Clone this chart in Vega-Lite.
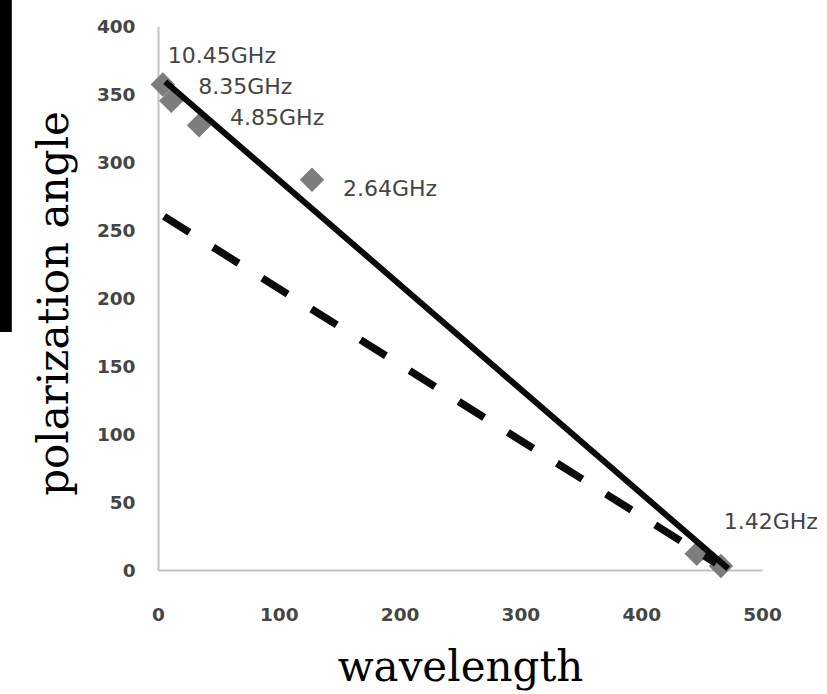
{
  "$schema": "https://vega.github.io/schema/vega-lite/v6.json",
  "width": 604,
  "height": 544,
  "autosize": "none",
  "padding": {"left": 158, "top": 26, "right": 65, "bottom": 124},
  "background": "white",
  "config": {
    "view": {"stroke": null},
    "axis": {
      "grid": false,
      "ticks": false,
      "tickSize": 0,
      "labelFlush": false,
      "labelFont": "DejaVu Sans",
      "labelFontWeight": "bold",
      "labelFontSize": 18.5,
      "labelColor": "#454545",
      "domainColor": "#c4c4c4",
      "domainWidth": 2,
      "titleFont": "DejaVu Serif",
      "titleFontSize": 42,
      "titleFontWeight": "normal",
      "titleColor": "#000000",
      "titleBaseline": "alphabetic"
    }
  },
  "datasets": {
    "points": [
      {"wavelength": 4, "angle": 357, "label": "10.45GHz"},
      {"wavelength": 11, "angle": 345, "label": "8.35GHz"},
      {"wavelength": 34, "angle": 327, "label": "4.85GHz"},
      {"wavelength": 127.5, "angle": 287, "label": "2.64GHz"},
      {"wavelength": 446, "angle": 12, "label": "1.42GHz"},
      {"wavelength": 466, "angle": 3, "label": ""}
    ],
    "fits": [
      {"fit": "solid", "wavelength": 6, "angle": 359},
      {"fit": "solid", "wavelength": 472, "angle": 1},
      {"fit": "dashed", "wavelength": 5, "angle": 260},
      {"fit": "dashed", "wavelength": 462, "angle": 5}
    ],
    "edge": [
      {"x0": -131, "x1": -121, "y0": 175, "y1": 420}
    ]
  },
  "layer": [
    {
      "data": {"name": "points"},
      "mark": {"type": "point", "shape": "diamond", "filled": true, "size": 600, "color": "#7d7d7d", "opacity": 1},
      "encoding": {
        "x": {
          "field": "wavelength", "type": "quantitative",
          "scale": {"domain": [0, 500], "nice": false, "zero": false},
          "axis": {"values": [0, 100, 200, 300, 400, 500], "labelPadding": 35, "title": "wavelength", "titleY": 110}
        },
        "y": {
          "field": "angle", "type": "quantitative",
          "scale": {"domain": [0, 400], "nice": false, "zero": false},
          "axis": {"values": [0, 50, 100, 150, 200, 250, 300, 350, 400], "labelPadding": 23, "title": "polarization angle", "titleX": -91, "titleY": 277}
        }
      }
    },
    {
      "data": {"name": "fits"},
      "transform": [{"filter": "datum.fit == 'solid'"}],
      "mark": {"type": "line", "color": "#0a0a0a", "strokeWidth": 6},
      "encoding": {
        "x": {"field": "wavelength", "type": "quantitative"},
        "y": {"field": "angle", "type": "quantitative"}
      }
    },
    {
      "data": {"name": "fits"},
      "transform": [{"filter": "datum.fit == 'dashed'"}],
      "mark": {"type": "line", "color": "#0a0a0a", "strokeWidth": 7.5, "strokeDash": [30, 28]},
      "encoding": {
        "x": {"field": "wavelength", "type": "quantitative"},
        "y": {"field": "angle", "type": "quantitative"}
      }
    },
    {
      "data": {"name": "points"},
      "transform": [{"filter": "datum.label == '10.45GHz'"}],
      "mark": {"type": "text", "align": "left", "baseline": "middle", "dx": 5, "dy": -28, "font": "DejaVu Sans", "fontSize": 22, "color": "#444444"},
      "encoding": {
        "x": {"field": "wavelength", "type": "quantitative"},
        "y": {"field": "angle", "type": "quantitative"},
        "text": {"field": "label"}
      }
    },
    {
      "data": {"name": "points"},
      "transform": [{"filter": "datum.label == '8.35GHz'"}],
      "mark": {"type": "text", "align": "left", "baseline": "middle", "dx": 27, "dy": -14, "font": "DejaVu Sans", "fontSize": 22, "color": "#444444"},
      "encoding": {
        "x": {"field": "wavelength", "type": "quantitative"},
        "y": {"field": "angle", "type": "quantitative"},
        "text": {"field": "label"}
      }
    },
    {
      "data": {"name": "points"},
      "transform": [{"filter": "datum.label == '4.85GHz'"}],
      "mark": {"type": "text", "align": "left", "baseline": "middle", "dx": 31, "dy": -7, "font": "DejaVu Sans", "fontSize": 22, "color": "#444444"},
      "encoding": {
        "x": {"field": "wavelength", "type": "quantitative"},
        "y": {"field": "angle", "type": "quantitative"},
        "text": {"field": "label"}
      }
    },
    {
      "data": {"name": "points"},
      "transform": [{"filter": "datum.label == '2.64GHz'"}],
      "mark": {"type": "text", "align": "left", "baseline": "middle", "dx": 31, "dy": 9, "font": "DejaVu Sans", "fontSize": 22, "color": "#444444"},
      "encoding": {
        "x": {"field": "wavelength", "type": "quantitative"},
        "y": {"field": "angle", "type": "quantitative"},
        "text": {"field": "label"}
      }
    },
    {
      "data": {"name": "points"},
      "transform": [{"filter": "datum.label == '1.42GHz'"}],
      "mark": {"type": "text", "align": "left", "baseline": "middle", "dx": 27, "dy": -32, "font": "DejaVu Sans", "fontSize": 22, "color": "#444444"},
      "encoding": {
        "x": {"field": "wavelength", "type": "quantitative"},
        "y": {"field": "angle", "type": "quantitative"},
        "text": {"field": "label"}
      }
    },
    {
      "data": {"name": "edge"},
      "mark": {"type": "rect", "color": "#000000", "clip": false},
      "encoding": {
        "x": {"field": "x0", "type": "quantitative"},
        "x2": {"field": "x1"},
        "y": {"field": "y1", "type": "quantitative"},
        "y2": {"field": "y0"}
      }
    }
  ]
}
